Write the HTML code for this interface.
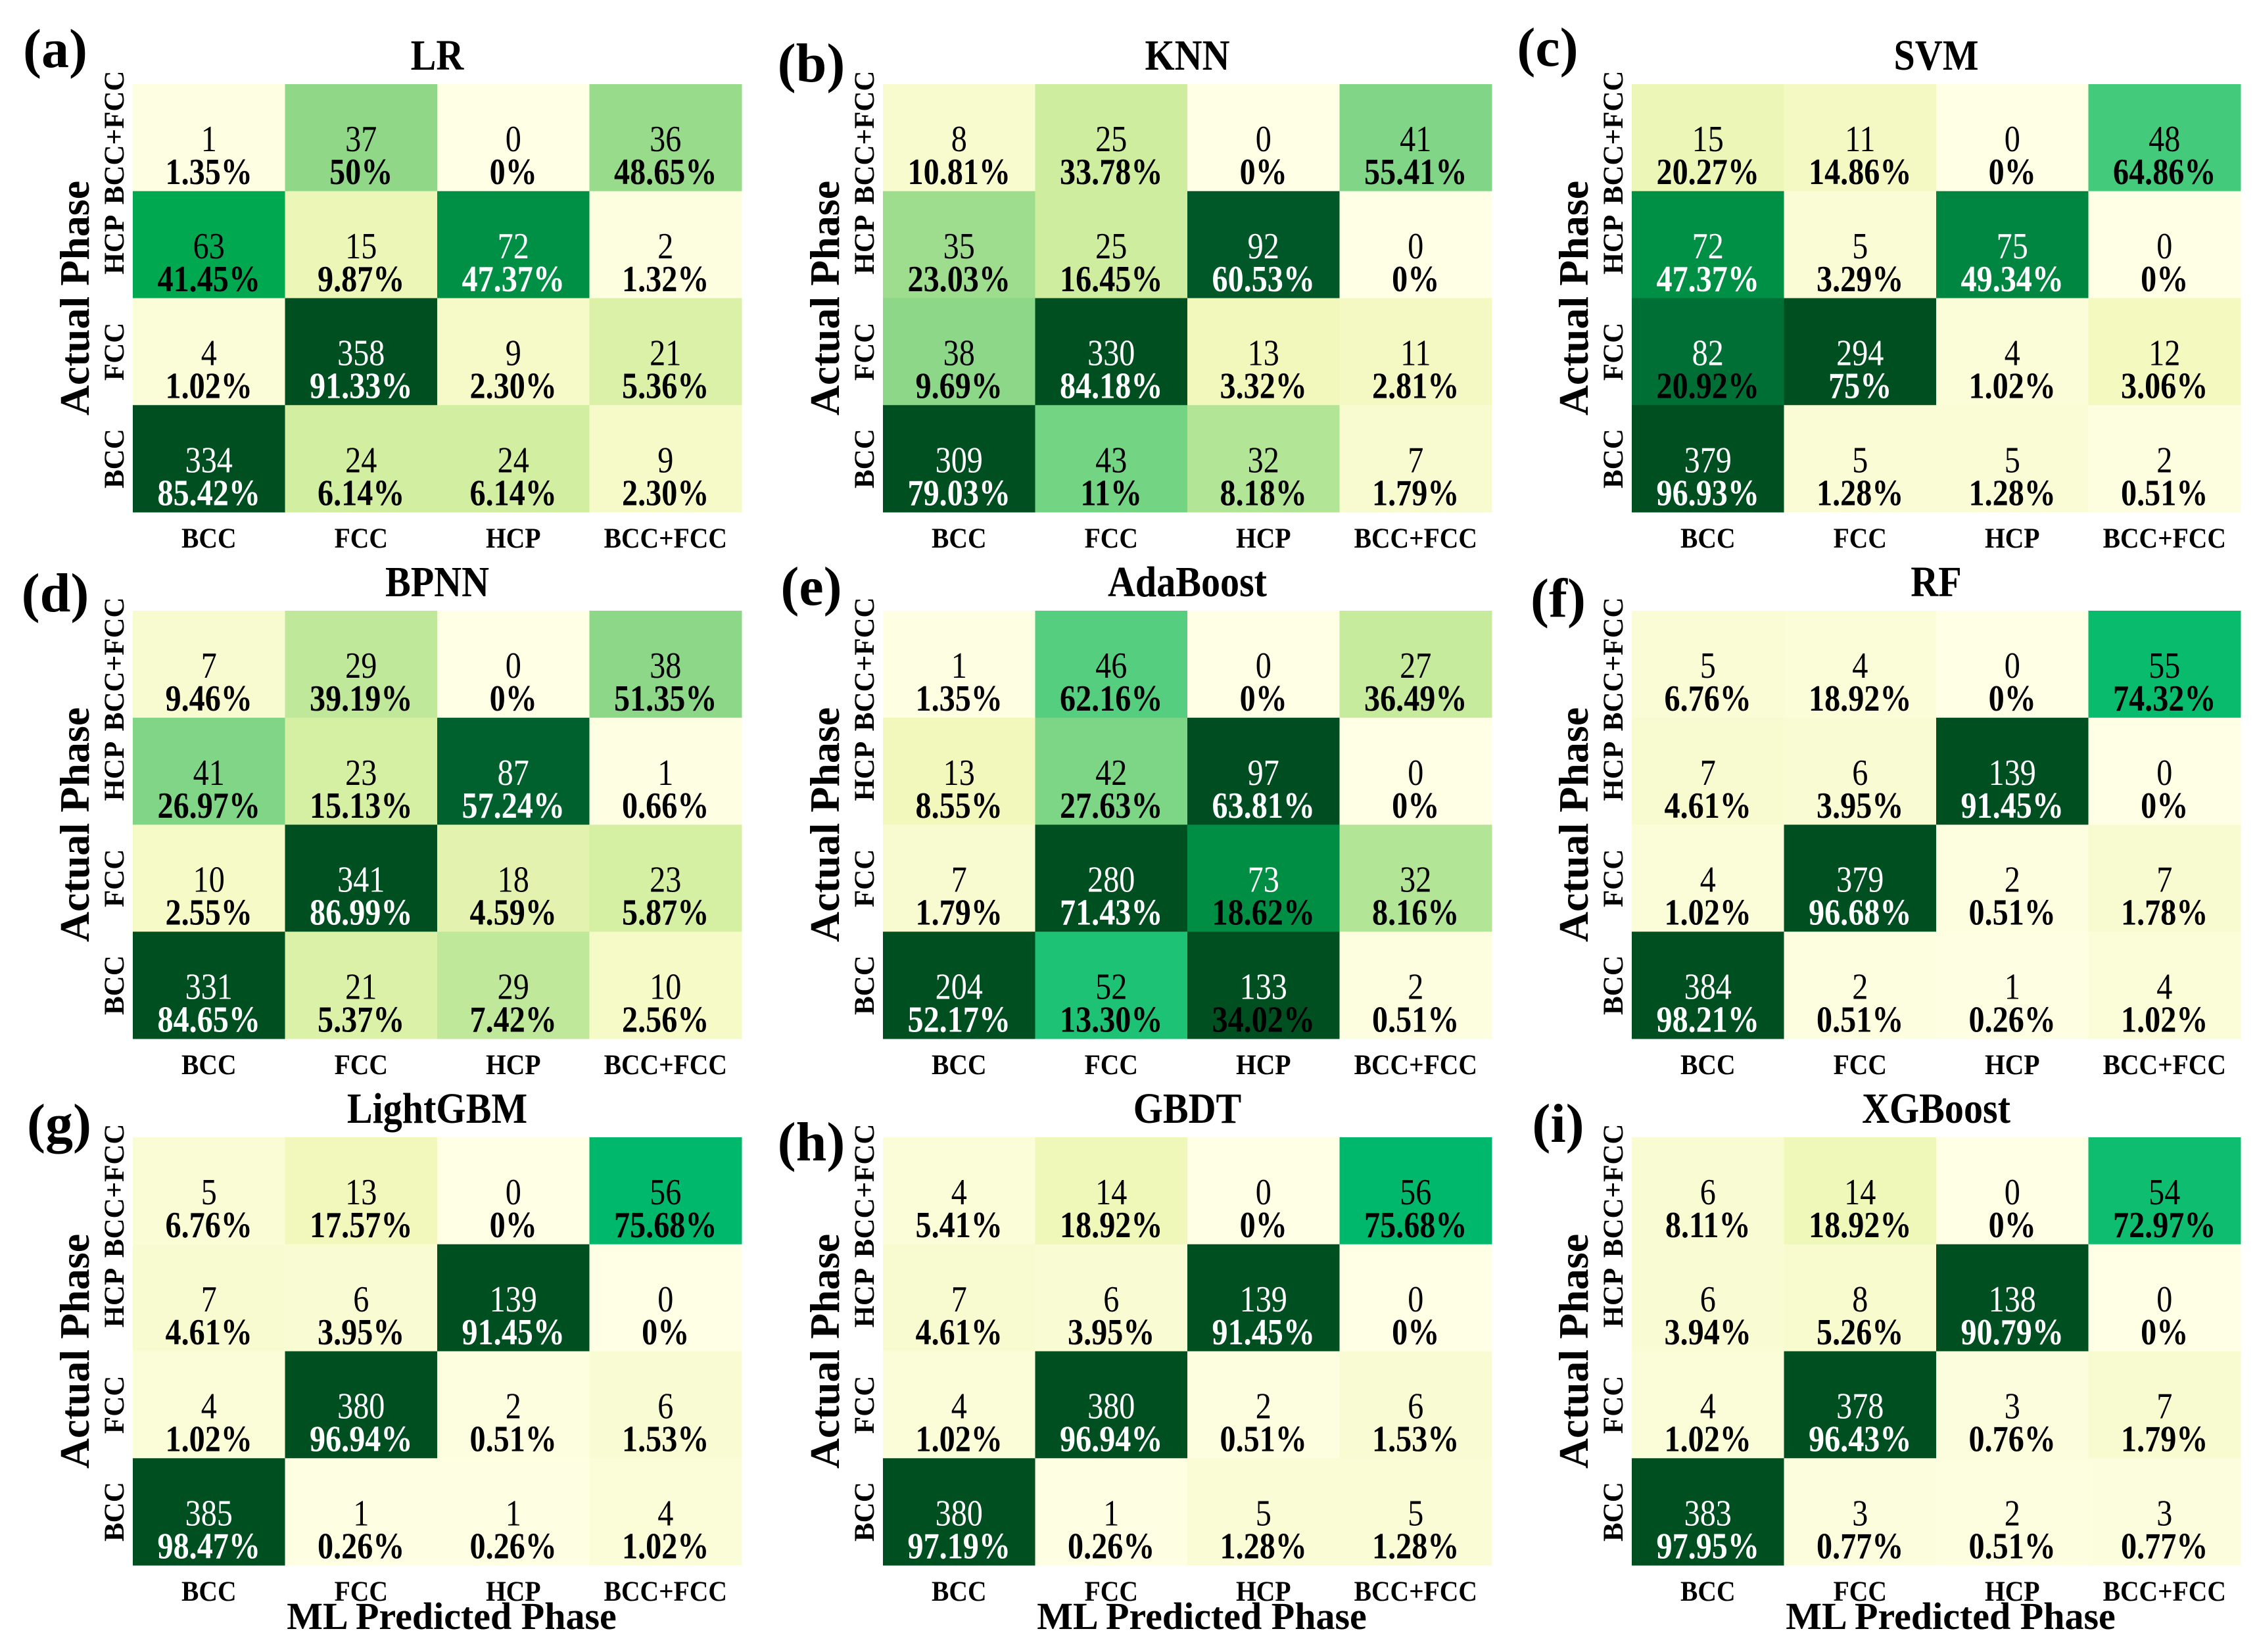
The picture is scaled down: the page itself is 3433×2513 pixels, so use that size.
<!DOCTYPE html>
<html><head><meta charset="utf-8">
<style>
html,body{margin:0;padding:0;background:#fff;}
svg{display:block;font-family:"Liberation Serif","Times New Roman",serif;}
</style></head>
<body>
<svg id="fig" width="3433" height="2513" viewBox="0 0 3433 2513" xmlns="http://www.w3.org/2000/svg"></svg>
<script>
const classLabels = ["BCC","FCC","HCP","BCC+FCC"];
const rowLabels = ["BCC+FCC","HCP","FCC","BCC"];
const panelNames = ["LR","KNN","SVM","BPNN","AdaBoost","RF","LightGBM","GBDT","XGBoost"];
const panelTags = ["(a)","(b)","(c)","(d)","(e)","(f)","(g)","(h)","(i)"];
const countsLR = [[1,37,0,36],[63,15,72,2],[4,358,9,21],[334,24,24,9]];
const pctLR = [["1.35%","50%","0%","48.65%"],["41.45%","9.87%","47.37%","1.32%"],["1.02%","91.33%","2.30%","5.36%"],["85.42%","6.14%","6.14%","2.30%"]];
const countsKNN = [[8,25,0,41],[35,25,92,0],[38,330,13,11],[309,43,32,7]];
const pctKNN = [["10.81%","33.78%","0%","55.41%"],["23.03%","16.45%","60.53%","0%"],["9.69%","84.18%","3.32%","2.81%"],["79.03%","11%","8.18%","1.79%"]];
const countsSVM = [[15,11,0,48],[72,5,75,0],[82,294,4,12],[379,5,5,2]];
const pctSVM = [["20.27%","14.86%","0%","64.86%"],["47.37%","3.29%","49.34%","0%"],["20.92%","75%","1.02%","3.06%"],["96.93%","1.28%","1.28%","0.51%"]];
const countsBPNN = [[7,29,0,38],[41,23,87,1],[10,341,18,23],[331,21,29,10]];
const pctBPNN = [["9.46%","39.19%","0%","51.35%"],["26.97%","15.13%","57.24%","0.66%"],["2.55%","86.99%","4.59%","5.87%"],["84.65%","5.37%","7.42%","2.56%"]];
const countsAda = [[1,46,0,27],[13,42,97,0],[7,280,73,32],[204,52,133,2]];
const pctAda = [["1.35%","62.16%","0%","36.49%"],["8.55%","27.63%","63.81%","0%"],["1.79%","71.43%","18.62%","8.16%"],["52.17%","13.30%","34.02%","0.51%"]];
const countsRF = [[5,4,0,55],[7,6,139,0],[4,379,2,7],[384,2,1,4]];
const pctRF = [["6.76%","18.92%","0%","74.32%"],["4.61%","3.95%","91.45%","0%"],["1.02%","96.68%","0.51%","1.78%"],["98.21%","0.51%","0.26%","1.02%"]];
const countsLGBM = [[5,13,0,56],[7,6,139,0],[4,380,2,6],[385,1,1,4]];
const pctLGBM = [["6.76%","17.57%","0%","75.68%"],["4.61%","3.95%","91.45%","0%"],["1.02%","96.94%","0.51%","1.53%"],["98.47%","0.26%","0.26%","1.02%"]];
const countsGBDT = [[4,14,0,56],[7,6,139,0],[4,380,2,6],[380,1,5,5]];
const pctGBDT = [["5.41%","18.92%","0%","75.68%"],["4.61%","3.95%","91.45%","0%"],["1.02%","96.94%","0.51%","1.53%"],["97.19%","0.26%","1.28%","1.28%"]];
const countsXGB = [[6,14,0,54],[6,8,138,0],[4,378,3,7],[383,3,2,3]];
const pctXGB = [["8.11%","18.92%","0%","72.97%"],["3.94%","5.26%","90.79%","0%"],["1.02%","96.43%","0.76%","1.79%"],["97.95%","0.77%","0.51%","0.77%"]];
const allCounts = [countsLR,countsKNN,countsSVM,countsBPNN,countsAda,countsRF,countsLGBM,countsGBDT,countsXGB];
const allPct = [pctLR,pctKNN,pctSVM,pctBPNN,pctAda,pctRF,pctLGBM,pctGBDT,pctXGB];

const NS="http://www.w3.org/2000/svg";
const svg=document.getElementById('fig');
const colLeft=[202,1343,2482], rowTop=[128,929,1730];
const W=926,H=651,cw=W/4,ch=H/4;
const tagPos=[[84,102],[1234,124],[2354,100],[84,930],[1234,920],[2370,938],[90,1737],[1234,1765],[2370,1737]];
const stops=[[0,"#ffffe5"],[0.07,"#f8fbd0"],[0.13,"#f2f8bc"],[0.24,"#d2eea0"],[0.32,"#b3e597"],[0.37,"#90d888"],[0.42,"#7cd686"],[0.52,"#1ec274"],[0.56,"#00b86b"],[0.63,"#00a850"],[0.73,"#008d44"],[0.85,"#006530"],[0.97,"#004d22"],[1,"#004f20"]];
function hex(c){return [1,3,5].map(i=>parseInt(c.substr(i,2),16));}
function colorScale(v){
  let t=Math.min(v/100,1);
  for(let i=1;i<stops.length;i++){
    if(t<=stops[i][0]){
      const a=hex(stops[i-1][1]),b=hex(stops[i][1]);
      const f=(t-stops[i-1][0])/(stops[i][0]-stops[i-1][0]);
      return "rgb("+a.map((x,k)=>Math.round(x+(b[k]-x)*f)).join(",")+")";
    }
  }
  return stops[stops.length-1][1];
}
function mk(tag,attrs,text){
  const e=document.createElementNS(NS,tag);
  for(const k in attrs)e.setAttribute(k,attrs[k]);
  if(text!==undefined)e.textContent=text;
  svg.appendChild(e);return e;
}
for(let p=0;p<9;p++){
  const x0=colLeft[p%3], y0=rowTop[Math.floor(p/3)];
  const counts=allCounts[p], pcts=allPct[p];
  for(let r=0;r<4;r++){
    for(let c=0;c<4;c++){
      const v=counts[r][c];
      const rect=mk('rect',{x:x0+c*cw,y:y0+r*ch,width:cw+0.5,height:ch+0.5,fill:colorScale(v)});
      
      
      const cx=x0+c*cw+cw/2;
      const pv=parseFloat(pcts[r][c]);
      const t1=mk('text',{transform:`translate(${cx},${y0+r*ch+102}) scale(0.86,1)`,'text-anchor':'middle','font-size':56,fill:v>=70?'#fff':'#000'},String(v));
      
      
      const t2=mk('text',{transform:`translate(${cx},${y0+r*ch+152}) scale(0.86,1)`,'text-anchor':'middle','font-size':56,'font-weight':'bold',fill:(v>=70&&pv>=40)?'#fff':'#000'},pcts[r][c]);
      
      
    }
  }
  for(let c=0;c<4;c++){
    const t=mk('text',{transform:`translate(${x0+c*cw+cw/2},${y0+H+54}) scale(0.92,1)`,'text-anchor':'middle','font-size':43,'font-weight':'bold'},classLabels[c]);
    
    
  }
  for(let r=0;r<4;r++){
    const t=mk('text',{transform:`translate(${x0-14},${y0+r*ch+ch/2}) rotate(-90)`,'text-anchor':'middle','font-size':43,'font-weight':'bold'},rowLabels[r]);
    
    
  }
  const ti=mk('text',{transform:`translate(${x0+W/2},${y0-22}) scale(0.88,1)`,'text-anchor':'middle','font-size':66,'font-weight':'bold'},panelNames[p]);
  
  
  const tg=mk('text',{x:tagPos[p][0],y:tagPos[p][1],'text-anchor':'middle','font-size':84,'font-weight':'bold'},panelTags[p]);
  
  
  const yl=mk('text',{transform:`translate(${x0-67},${y0+H/2}) rotate(-90)`,'text-anchor':'middle','font-size':64,'font-weight':'bold'},"Actual Phase");
  
  
  if(p>=6){
    const xl=mk('text',{x:x0+W/2+22,y:2478,'text-anchor':'middle','font-size':58,'font-weight':'bold'},"ML Predicted Phase");
    
    
  }
}
</script>
</body></html>
